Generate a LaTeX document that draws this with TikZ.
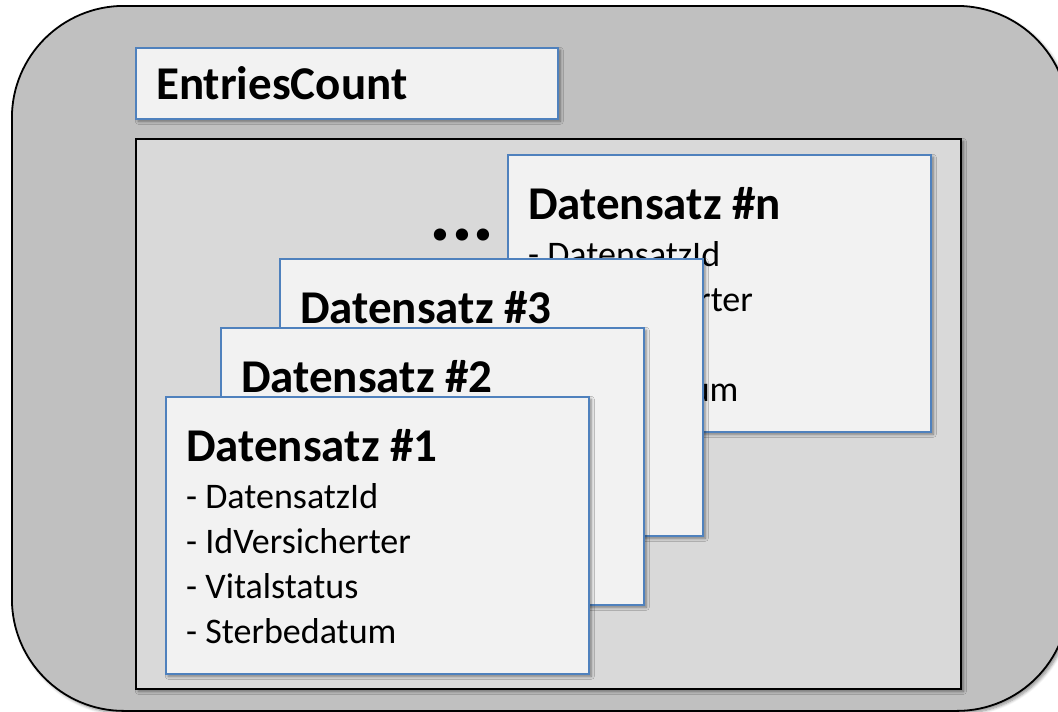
\documentclass[tikz,border=0pt]{standalone}
\usepackage{fontspec}
\setmainfont{Carlito}
\usetikzlibrary{shadows.blur}
\definecolor{framefill}{HTML}{C0C0C0}
\definecolor{panelfill}{HTML}{D9D9D9}
\definecolor{boxfill}{HTML}{F2F2F2}
\definecolor{boxblue}{HTML}{4F81BD}
\begin{document}
\begin{tikzpicture}[x=1pt,y=-1pt,
  softshadow/.style={blur shadow={shadow xshift=2.5pt, shadow yshift=-2.5pt,
      shadow blur steps=6, shadow blur radius=3pt, shadow opacity=45}},
  frame/.style={draw=black, fill=framefill, line width=1.8pt, rounded corners=112pt,
      inner sep=0pt, anchor=north west, softshadow},
  panel/.style={draw=black, fill=panelfill, line width=1.8pt, inner sep=0pt,
      anchor=north west, softshadow},
  record/.style={draw=boxblue, fill=boxfill, line width=1.6pt, inner sep=0pt,
      minimum width=423pt, minimum height=277pt, anchor=north west, softshadow},
  title/.style={anchor=base west, inner sep=0pt, font=\fontsize{47}{52}\selectfont\bfseries},
  item/.style={anchor=base west, inner sep=0pt, font=\fontsize{36}{42}\selectfont}]
\useasboundingbox (0,0) rectangle (1058,712);
\clip (0,0) rectangle (1058,712);

% outer rounded frame and inner panel
\node[frame, minimum width=1057pt, minimum height=705pt] (frame) at (11,5) {};
\node[panel, minimum width=825pt, minimum height=550pt] (panel) at (135,138) {};

% counter box
\node[record, minimum width=422pt, minimum height=71pt] (count) at (135,47) {};
\node[title] (countlabel) at ([xshift=21pt,yshift=-52pt]count.north west) {EntriesCount};

% ellipsis between the stacked records
\node[anchor=base, inner sep=0pt, font=\fontsize{82}{82}\selectfont\bfseries] (dots) at (462,240) {...};

% stacked records, back to front
\foreach \r/\x/\y/\k in {dn/507/154/n, d3/279/258/3, d2/220/327/2, d1/165/396/1}{
  \node[record] (\r) at (\x,\y) {};
  \node[title] (\r-title) at ([xshift=21pt,yshift=-65pt]\r.north west) {Datensatz \#\k};
  \node[item] (\r-id)   at ([xshift=21pt,yshift=-112pt]\r.north west) {- DatensatzId};
  \node[item] (\r-ins)  at ([xshift=21pt,yshift=-157pt]\r.north west) {- IdVersicherter};
  \node[item] (\r-vit)  at ([xshift=21pt,yshift=-202pt]\r.north west) {- Vitalstatus};
  \node[item] (\r-ster) at ([xshift=21pt,yshift=-247pt]\r.north west) {- Sterbedatum};
}
\end{tikzpicture}
\end{document}
